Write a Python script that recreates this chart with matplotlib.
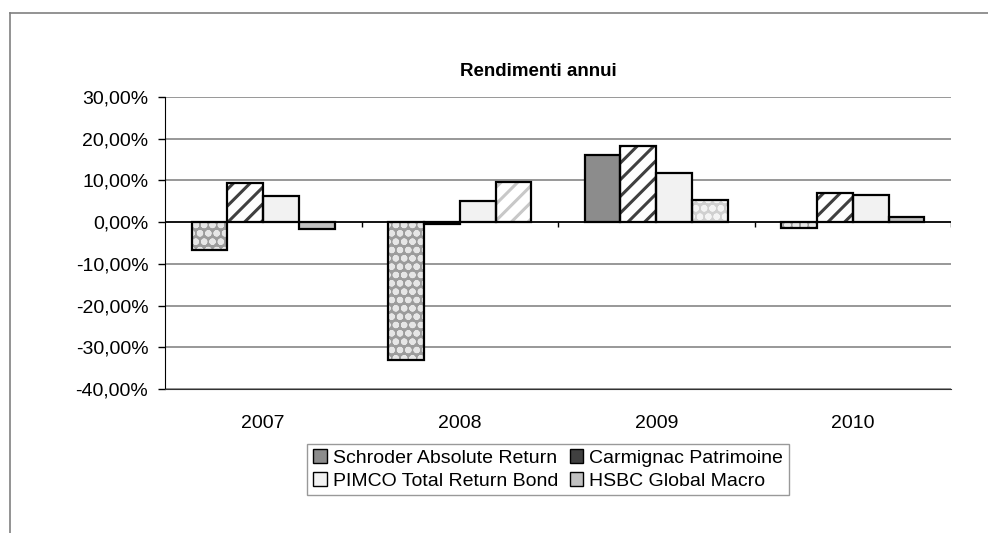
import matplotlib
matplotlib.use("Agg")
import matplotlib.pyplot as plt
from matplotlib.patches import Patch
from matplotlib.lines import Line2D
import numpy as np

plt.rcParams["font.family"] = ["Liberation Sans", "DejaVu Sans"]
plt.rcParams["hatch.linewidth"] = 2.2

years = ["2007", "2008", "2009", "2010"]
series = ["Schroder Absolute Return", "Carmignac Patrimoine",
          "PIMCO Total Return Bond", "HSBC Global Macro"]
schroder = [-6.7, -33.0, 16.2, -1.3]
carmignac = [9.3, -0.4, 18.2, 7.1]
pimco = [6.3, 5.1, 11.7, 6.6]
hsbc = [-1.7, 9.6, 5.2, 1.2]
values = [schroder, carmignac, pimco, hsbc]

# fill style of each bar, as the old export shows them
styles = [["dots", "dots", "solid", "dots"],
          ["stripes", "solid", "stripes", "stripes"],
          ["solid", "solid", "solid", "solid"],
          ["solid", "lightstripes", "lightdots", "solid"]]
colors = ["#8c8c8c", "#404040", "#f2f2f2", "#c0c0c0"]

fig = plt.figure(figsize=(9.88, 5.33), dpi=100)
ax = fig.add_axes([165 / 988, 1 - 389 / 533, (951 - 165) / 988, (389 - 97) / 533])

w = 0.182
x = np.arange(len(years))
for j, vals in enumerate(values):
    for i, v in enumerate(vals):
        xi = x[i] + (j - 1.5) * w
        st = styles[j][i]
        if st == "dots":
            ax.bar(xi, v, w, color="#9c9c9c", hatch="oo", edgecolor="#e6e6e6", linewidth=0, zorder=3)
        elif st == "stripes":
            ax.bar(xi, v, w, color="white", hatch="//", edgecolor=colors[j], linewidth=0, zorder=3)
        elif st == "lightstripes":
            ax.bar(xi, v, w, color="white", hatch="//", edgecolor="#c8c8c8", linewidth=0, zorder=3)
        elif st == "lightdots":
            ax.bar(xi, v, w, color="#d0d0d0", hatch="oo", edgecolor="#f4f4f4", linewidth=0, zorder=3)
        else:
            ax.bar(xi, v, w, color=colors[j], linewidth=0, zorder=3)
        ax.bar(xi, v, w, fill=False, edgecolor="black", linewidth=1.6, zorder=4)

ax.set_xlim(-0.5, 3.5)
ax.set_ylim(-40, 30)
yt = np.arange(-40, 31, 10)
ax.set_yticks(yt)
ax.set_yticklabels([f"{t:.2f}%".replace(".", ",") for t in yt])
ax.grid(axis="y", color="#868686", linewidth=1.2, zorder=0)
ax.set_xticks(x)
ax.set_xticklabels(years)
ax.tick_params(axis="x", length=0, pad=19, labelsize=14)
ax.tick_params(axis="y", length=5, width=1, pad=7, labelsize=14)
for s in ["top", "right"]:
    ax.spines[s].set_visible(False)
ax.spines["left"].set_color("black")
ax.spines["bottom"].set_color("#333333")

# category axis at zero with small ticks between the groups
ax.axhline(0, color="black", linewidth=1.2, zorder=5)
ax.vlines([0.5, 1.5, 2.5, 3.5], -1.2, 0, color="black", linewidth=1, zorder=5)

fig.text(538 / 988, 1 - 71 / 533, "Rendimenti annui", ha="center", va="center",
         fontsize=13.5, fontweight="bold")

# legend fills row by row: Schroder, Carmignac / PIMCO, HSBC
order = [0, 2, 1, 3]
handles = [Patch(facecolor=colors[k], edgecolor="black", linewidth=1) for k in order]
labels = [series[k] for k in order]
leg = fig.legend(handles, labels, ncol=2, loc="center",
                 bbox_to_anchor=(548 / 988, 1 - 469.5 / 533), fontsize=14,
                 frameon=True, fancybox=False, handlelength=0.7, handleheight=0.7,
                 handletextpad=0.3, columnspacing=0.6, labelspacing=0.25,
                 borderpad=0.3, borderaxespad=0)
leg.get_frame().set_edgecolor("#808080")
leg.get_frame().set_linewidth(1)

# outer chart border (cut off on the right and bottom)
fig.add_artist(Line2D([10 / 988, 1], [1 - 13 / 533] * 2, transform=fig.transFigure,
                      color="#808080", linewidth=1.2))
fig.add_artist(Line2D([10 / 988] * 2, [0, 1 - 13 / 533], transform=fig.transFigure,
                      color="#808080", linewidth=1.2))

plt.savefig("out.png", dpi=100)
